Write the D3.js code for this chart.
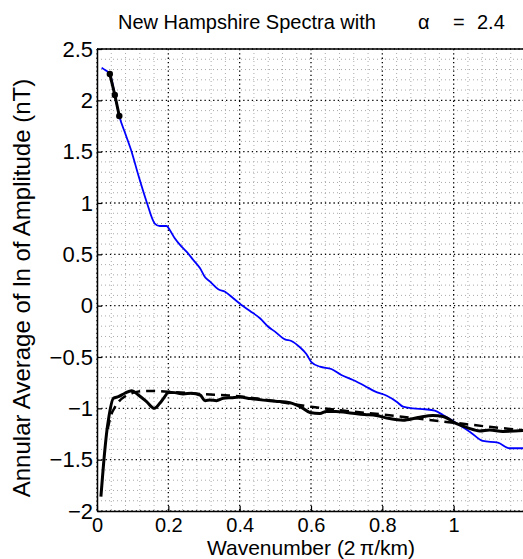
<!DOCTYPE html>
<html>
<head>
<meta charset="utf-8">
<script src="https://cdn.jsdelivr.net/npm/d3@7"></script>
<style>
  body { margin: 0; background: #fff; }
  text { font-family: "Liberation Sans", Arial, Helvetica, sans-serif; }
</style>
</head>
<body>
<div id="chart"></div>
<script>
// blue curve: annular average of the spectrum
var blueK = [0.013, 0.025, 0.036, 0.05, 0.0625, 0.08, 0.097, 0.116, 0.139, 0.162, 0.176, 0.195, 0.204, 0.218, 0.237, 0.251, 0.27, 0.289, 0.303, 0.317, 0.34, 0.359, 0.382, 0.405, 0.429, 0.457, 0.48, 0.499, 0.527, 0.545, 0.569, 0.587, 0.601, 0.625, 0.657, 0.685, 0.718, 0.751, 0.779, 0.811, 0.84, 0.858, 0.886, 0.919, 0.947, 0.97, 0.994, 1.008, 1.045, 1.082, 1.124, 1.157, 1.2];
var blueV = [2.318, 2.29, 2.26, 2.05, 1.847, 1.67, 1.5, 1.27, 1.013, 0.8, 0.776, 0.776, 0.737, 0.656, 0.575, 0.526, 0.445, 0.364, 0.276, 0.234, 0.16, 0.136, 0.072, 0.007, -0.052, -0.123, -0.205, -0.253, -0.328, -0.344, -0.405, -0.47, -0.55, -0.594, -0.617, -0.675, -0.724, -0.782, -0.835, -0.875, -0.935, -0.984, -1.0, -1.009, -1.023, -1.065, -1.114, -1.146, -1.227, -1.318, -1.334, -1.389, -1.389];

// short black segment with dots (fitted part)
var fitK = [0.036, 0.05, 0.0625];
var fitV = [2.256, 2.052, 1.847];

// black solid curve: corrected spectrum
var corrK = [0.011, 0.022, 0.028, 0.032, 0.046, 0.06, 0.078, 0.097, 0.116, 0.139, 0.161, 0.176, 0.19, 0.2, 0.218, 0.242, 0.265, 0.289, 0.303, 0.317, 0.335, 0.354, 0.377, 0.4, 0.43, 0.466, 0.5, 0.541, 0.573, 0.597, 0.625, 0.643, 0.67, 0.7, 0.75, 0.783, 0.82, 0.858, 0.9, 0.942, 0.97, 1.008, 1.04, 1.073, 1.101, 1.138, 1.2];
var corrV = [-1.86, -1.406, -1.21, -1.113, -0.902, -0.886, -0.853, -0.828, -0.87, -0.935, -1.0, -0.951, -0.886, -0.844, -0.847, -0.86, -0.853, -0.87, -0.925, -0.919, -0.925, -0.902, -0.896, -0.89, -0.905, -0.92, -0.93, -0.945, -0.99, -1.04, -1.05, -1.03, -1.03, -1.04, -1.06, -1.07, -1.1, -1.115, -1.09, -1.07, -1.08, -1.15, -1.19, -1.22, -1.21, -1.225, -1.215];

// black dashed curve: model
var modelK = [0.03, 0.04, 0.05, 0.061, 0.08, 0.1, 0.125, 0.15, 0.2, 0.25, 0.3, 0.37, 0.45, 0.5, 0.6, 0.7, 0.8, 0.9, 1.0, 1.1, 1.2];
var modelV = [-1.2, -1.06, -0.99, -0.935, -0.88, -0.85, -0.832, -0.83, -0.838, -0.85, -0.862, -0.875, -0.905, -0.93, -0.985, -1.025, -1.06, -1.1, -1.14, -1.18, -1.215];

var xTicks = [0, 0.2, 0.4, 0.6, 0.8, 1];
var yTicks = [-2, -1.5, -1, -0.5, 0, 0.5, 1, 1.5, 2, 2.5];

var W = 523, H = 559;
var margin = { top: 49, left: 97, bottom: 48, right: -2 };
var width = W - margin.left - margin.right;
var height = H - margin.top - margin.bottom;

var svg = d3.select("#chart").append("svg")
    .attr("width", W)
    .attr("height", H);

var g = svg.append("g")
    .attr("transform", "translate(" + margin.left + "," + margin.top + ")");

var x = d3.scaleLinear().domain([0, 1.2]).range([0, width]);
var y = d3.scaleLinear().domain([-2, 2.5]).range([height, 0]);

// minor grid
g.append("g").selectAll("line")
    .data(d3.range(0, 31).map(function(i) { return i * 0.04; }).filter(function(d, i) { return i % 5 != 0; }))
    .enter().append("line")
    .attr("x1", function(d) { return x(d); }).attr("x2", function(d) { return x(d); })
    .attr("y1", 0).attr("y2", height)
    .attr("stroke", "#aaa").attr("stroke-width", 1).attr("stroke-dasharray", "1,3");
g.append("g").selectAll("line")
    .data(d3.range(0, 46).map(function(i) { return -2 + i * 0.1; }).filter(function(d, i) { return i % 5 != 0; }))
    .enter().append("line")
    .attr("y1", function(d) { return y(d); }).attr("y2", function(d) { return y(d); })
    .attr("x1", 0).attr("x2", width)
    .attr("stroke", "#aaa").attr("stroke-width", 1).attr("stroke-dasharray", "1,3");

// major grid
g.append("g").selectAll("line")
    .data(xTicks.concat([1.2]))
    .enter().append("line")
    .attr("x1", function(d) { return x(d); }).attr("x2", function(d) { return x(d); })
    .attr("y1", 0).attr("y2", height)
    .attr("stroke", "#000").attr("stroke-width", 1.3).attr("stroke-dasharray", "1.3,3");
g.append("g").selectAll("line")
    .data(yTicks)
    .enter().append("line")
    .attr("y1", function(d) { return y(d); }).attr("y2", function(d) { return y(d); })
    .attr("x1", 0).attr("x2", width)
    .attr("stroke", "#000").attr("stroke-width", 1.3).attr("stroke-dasharray", "1.3,3");

var line = d3.line()
    .x(function(d) { return x(d[0]); })
    .y(function(d) { return y(d[1]); })
    .curve(d3.curveMonotoneX);

function pairs(a, b) { return a.map(function(v, i) { return [v, b[i]]; }); }

g.append("path")
    .datum(pairs(blueK, blueV))
    .attr("d", line)
    .attr("fill", "none").attr("stroke", "#0000ff").attr("stroke-width", 1.8);

g.append("path")
    .datum(pairs(modelK, modelV))
    .attr("d", line)
    .attr("fill", "none").attr("stroke", "#000").attr("stroke-width", 2.5)
    .attr("stroke-dasharray", "9,6");

g.append("path")
    .datum(pairs(corrK, corrV))
    .attr("d", line)
    .attr("fill", "none").attr("stroke", "#000").attr("stroke-width", 3);

g.append("path")
    .datum(pairs(fitK, fitV))
    .attr("d", d3.line().x(function(d) { return x(d[0]); }).y(function(d) { return y(d[1]); }))
    .attr("fill", "none").attr("stroke", "#000").attr("stroke-width", 3);
g.selectAll(".fitdot")
    .data(pairs(fitK, fitV))
    .enter().append("circle")
    .attr("cx", function(d) { return x(d[0]); })
    .attr("cy", function(d) { return y(d[1]); })
    .attr("r", 3.2).attr("fill", "#000");

// axes (ticks inward, box)
var fmt = d3.format("~g");
g.append("g")
    .attr("transform", "translate(0," + height + ")")
    .call(d3.axisBottom(x).tickValues(xTicks).tickFormat(fmt).tickSizeInner(-5).tickSizeOuter(0).tickPadding(6.5))
    .selectAll("text").style("font-size", "20px");
g.append("g")
    .call(d3.axisLeft(y).tickValues(yTicks).tickFormat(fmt).tickSizeInner(-5).tickSizeOuter(0).tickPadding(4))
    .selectAll("text").style("font-size", "22px");
g.append("line")
    .attr("x1", 0).attr("x2", width).attr("y1", 0).attr("y2", 0)
    .attr("stroke", "#000").attr("stroke-width", 1.5);

g.selectAll(".domain").attr("stroke", "#000").attr("stroke-width", 1.5);
g.selectAll(".tick line").attr("stroke", "#000").attr("stroke-width", 1.2);
g.selectAll(".tick text")
    .style("font-family", "'Liberation Sans', Arial, sans-serif")
    .attr("fill", "#000");

// title and labels
var title = svg.append("text")
    .attr("x", 118)
    .attr("y", 29)
    .style("font-size", "20px");
title.append("tspan").text("New Hampshire Spectra with");
title.append("tspan").attr("x", 418).text("\u03b1");
title.append("tspan").attr("x", 453).text("=");
title.append("tspan").attr("x", 477).text("2.4");

svg.append("text")
    .attr("x", 311)
    .attr("y", 555)
    .attr("text-anchor", "middle")
    .style("font-size", "21px")
    .text("Wavenumber (2\u2009\u03c0/km)");

svg.append("text")
    .attr("transform", "translate(30,288) rotate(-90)")
    .attr("text-anchor", "middle")
    .style("font-size", "24px")
    .text("Annular Average of ln of Amplitude (nT)");
</script>
</body>
</html>
